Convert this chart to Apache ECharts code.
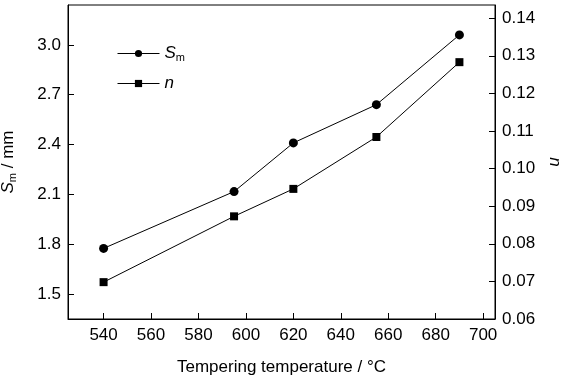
<!DOCTYPE html>
<html><head><meta charset="utf-8">
<script src="https://cdn.jsdelivr.net/npm/echarts@6/dist/echarts.min.js"></script>
<style>html,body{margin:0;padding:0;background:#fff}#c{width:562px;height:376px}</style>
</head><body><div id="c"></div>
<script>
const temps = [540, 595, 620, 655, 690];
const smValues = [1.775, 2.117, 2.41, 2.64, 3.06];
const nValues = [0.0698, 0.0873, 0.0946, 0.1084, 0.1283];
const xTicks = [540, 560, 580, 600, 620, 640, 660, 680, 700];
const leftTicks = [1.5, 1.8, 2.1, 2.4, 2.7, 3.0];
const rightTicks = [0.06, 0.07, 0.08, 0.09, 0.10, 0.11, 0.12, 0.13, 0.14];

const F = '"Liberation Sans", Arial, sans-serif';
const chart = echarts.init(document.getElementById('c'), null, {renderer: 'canvas'});
const nameRich = {
  i: {fontFamily: F, fontStyle: 'italic', fontSize: 17, color: '#000'},
  sub: {fontFamily: F, fontSize: 11, color: '#000', verticalAlign: 'bottom', padding: [8, 0, 0, 0]},
  t: {fontFamily: F, fontSize: 17, color: '#000'}
};
chart.setOption({
  animation: false,
  backgroundColor: '#fff',
  grid: {left: 68, right: 67, top: 5, bottom: 57, containLabel: false, outerBoundsMode: 'none',
         show: true, borderColor: '#000', borderWidth: 1, backgroundColor: 'transparent'},
  legend: {
    left: 117, top: 45, padding: 0, orient: 'vertical', itemGap: 12, itemWidth: 42, itemHeight: 9,
    data: ['Sm', 'n'],
    lineStyle: {width: 1},
    formatter: function (name) { return name === 'Sm' ? '{i|S}{sub|m}' : '{i|n}'; },
    textStyle: {fontFamily: F, fontSize: 17, color: '#000', rich: nameRich}
  },
  xAxis: {
    type: 'value', min: 525, max: 705,
    name: 'Tempering temperature / °C', nameLocation: 'middle', nameGap: 40,
    nameTextStyle: {fontFamily: F, fontSize: 17, color: '#000'},
    axisLine: {lineStyle: {color: '#000', width: 1}},
    axisTick: {inside: true, length: 6, lineStyle: {color: '#000'}, customValues: xTicks},
    axisLabel: {fontFamily: F, fontSize: 17, color: '#000', margin: 8, customValues: xTicks},
    splitLine: {show: false}
  },
  yAxis: [{
    type: 'value', min: 1.35, max: 3.24, position: 'left',
    name: '{i|S}{sub|m}{t| / mm}', nameLocation: 'middle', nameGap: 50, nameRotate: 90,
    nameTextStyle: {rich: nameRich},
    axisLine: {show: true, lineStyle: {color: '#000'}},
    axisTick: {show: true, inside: true, length: 6, lineStyle: {color: '#000'}, customValues: leftTicks},
    axisLabel: {fontFamily: F, fontSize: 17, color: '#000', margin: 7, customValues: leftTicks, formatter: v => v.toFixed(1)},
    splitLine: {show: false}
  }, {
    type: 'value', min: 0.06, max: 0.1435, position: 'right',
    name: '{i|n}', nameLocation: 'middle', nameGap: 50, nameRotate: -90,
    nameTextStyle: {rich: nameRich},
    axisLine: {show: true, lineStyle: {color: '#000'}},
    axisTick: {show: true, inside: true, length: 6, lineStyle: {color: '#000'}, customValues: rightTicks},
    axisLabel: {fontFamily: F, fontSize: 17, color: '#000', margin: 7, customValues: rightTicks, formatter: v => v.toFixed(2)},
    splitLine: {show: false}
  }],
  series: [{
    name: 'Sm', type: 'line', yAxisIndex: 0,
    data: temps.map((t, i) => [t, smValues[i]]),
    symbol: 'circle', symbolSize: 9,
    lineStyle: {color: '#000', width: 1}, itemStyle: {color: '#000'}
  }, {
    name: 'n', type: 'line', yAxisIndex: 1,
    data: temps.map((t, i) => [t, nValues[i]]),
    symbol: 'rect', symbolSize: 8,
    lineStyle: {color: '#000', width: 1}, itemStyle: {color: '#000'}
  }]
});
</script></body></html>
